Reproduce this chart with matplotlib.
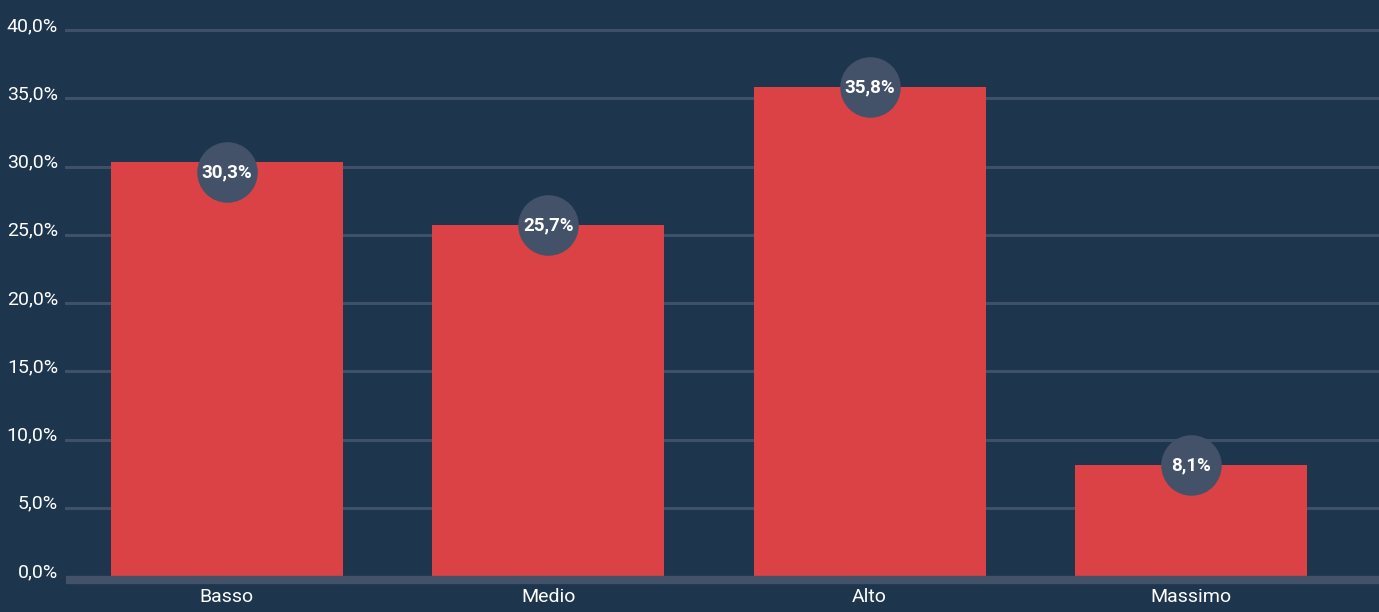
import matplotlib
matplotlib.use("Agg")
import matplotlib.pyplot as plt
from matplotlib.transforms import ScaledTranslation, offset_copy

categories = ["Basso", "Medio", "Alto", "Massimo"]
values = [30.3, 25.7, 35.8, 8.1]
yticks = [0, 5, 10, 15, 20, 25, 30, 35, 40]

BG = "#1e364d"
BAR = "#db4245"
GRID = "#3f5069"
BUBBLE = "#435269"

plt.rcParams['font.family'] = ['Roboto', 'DejaVu Sans']

fig = plt.figure(figsize=(13.79, 6.12), dpi=100, facecolor=BG)
ax = fig.add_axes([66 / 1379, 36 / 612, 1 - 66 / 1379, (576 - 30) / 612])
ax.set_facecolor(BG)

x = list(range(len(categories)))
ax.bar(x, values, width=0.722, color=BAR, zorder=2)

# value bubbles (the first one sits a bit lower, as in the original)
for xi, v in zip(x, values):
    dy = -7 if xi == 0 else 0
    tr = offset_copy(ax.transData, fig=fig, y=dy, units='points')
    ax.scatter([xi], [v], s=1900, color=BUBBLE, zorder=3, clip_on=False,
               linewidths=0, transform=tr)
    ax.text(xi, v, f"{v:.1f}%".replace(".", ","), transform=tr,
            ha="center", va="center", color="white", fontsize=13.5,
            fontweight="bold", zorder=4)

ax.set_xlim(-0.5, 3.585)
ax.set_ylim(0, 40)
ax.set_yticks(yticks)
ax.set_yticklabels([f"{t:.1f}%".replace(".", ",") for t in yticks])
ax.set_xticks(x)
ax.set_xticklabels(categories)

for t in yticks[1:]:
    ax.axhline(t, color=GRID, lw=2.2, zorder=1, clip_on=False)
# thick baseline just under the bars
base_tr = offset_copy(ax.get_yaxis_transform(), fig=fig, y=-4, units='dots')
ax.plot([0, 1], [0, 0], transform=base_tr, color=BUBBLE, lw=6, zorder=3,
        clip_on=False, solid_capstyle='butt')

for s in ax.spines.values():
    s.set_visible(False)
ax.tick_params(axis='y', length=0, pad=5.8, labelsize=14, labelcolor="white")
ax.tick_params(axis='x', length=0, pad=9, labelsize=14, labelcolor="white")
for lab in ax.get_yticklabels():
    lab.set_transform(lab.get_transform() + ScaledTranslation(0, 6 / 100, fig.dpi_scale_trans))

fig.savefig("out.png", dpi=100, facecolor=BG)
